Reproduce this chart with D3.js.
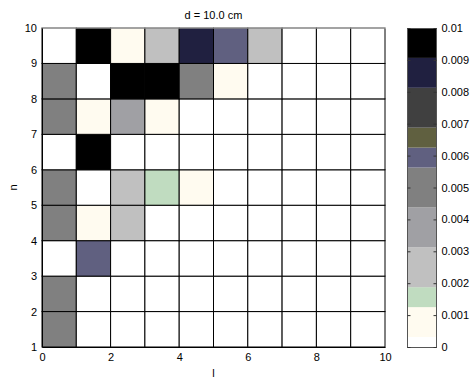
<!DOCTYPE html>
<html>
<head>
<meta charset="utf-8">
<script src="https://cdn.jsdelivr.net/npm/d3@7"></script>
<style>
  body { margin: 0; background: #fff; }
  text { font-family: "Liberation Sans", Arial, sans-serif; font-size: 11px; fill: #000; }
</style>
</head>
<body>
<div id="chart"></div>
<script>
// Axis ticks
const lTicks = [0, 2, 4, 6, 8, 10];
const nTicks = [1, 2, 3, 4, 5, 6, 7, 8, 9, 10];
const cbTicks = [0, 0.001, 0.002, 0.003, 0.004, 0.005, 0.006, 0.007, 0.008, 0.009, 0.01];

// Grid: cells for l = 0..9, rows listed from n = 1 (bottom) to n = 9 (top)
const lCells = [0, 1, 2, 3, 4, 5, 6, 7, 8, 9];
const nCells = [1, 2, 3, 4, 5, 6, 7, 8, 9];
const values = [
  [0.005, 0, 0, 0, 0, 0, 0, 0, 0, 0],
  [0.005, 0, 0, 0, 0, 0, 0, 0, 0, 0],
  [0, 0.006, 0, 0, 0, 0, 0, 0, 0, 0],
  [0.005, 0.0008, 0.0025, 0, 0, 0, 0, 0, 0, 0],
  [0.005, 0, 0.0025, 0.0016, 0.0008, 0, 0, 0, 0, 0],
  [0, 0.0098, 0, 0, 0, 0, 0, 0, 0, 0],
  [0.005, 0.0008, 0.0037, 0.0008, 0, 0, 0, 0, 0, 0],
  [0.005, 0, 0.0098, 0.0098, 0.005, 0.0008, 0, 0, 0, 0],
  [0, 0.0098, 0.0008, 0.0025, 0.0086, 0.006, 0.0025, 0, 0, 0]
];

// Discrete colormap (32-step map with merged bands)
const bandEdges = [0, 0.0003125, 0.00125, 0.001875, 0.003125, 0.004375, 0.005625, 0.00625, 0.006875, 0.008125, 0.0090625, 0.01];
const bandColors = ['#ffffff', '#fffbf0', '#c0dcc0', '#c0c0c0', '#a0a0a4', '#808080',
                    '#606080', '#606040', '#404040', '#202040', '#000000'];

const W = 470, H = 378;
const plot = { left: 42, right: 385, top: 28, bottom: 347 };
const cb = { left: 407, right: 436 };

const svg = d3.select('#chart').append('svg')
  .attr('width', W).attr('height', H);

svg.append('rect').attr('width', W).attr('height', H).attr('fill', '#fff');

const x = d3.scaleLinear().domain([0, 10]).range([plot.left, plot.right]);
const y = d3.scaleLinear().domain([1, 10]).range([plot.bottom, plot.top]);
const color = d3.scaleThreshold().domain(bandEdges.slice(1, -1)).range(bandColors);

const cells = [];
nCells.forEach((n, i) => lCells.forEach((l, j) => cells.push({ l, n, v: values[i][j] })));

svg.append('g').selectAll('rect')
  .data(cells)
  .join('rect')
  .attr('x', d => x(d.l))
  .attr('y', d => y(d.n + 1))
  .attr('width', d => x(d.l + 1) - x(d.l))
  .attr('height', d => y(d.n) - y(d.n + 1))
  .attr('fill', d => color(d.v))
  .attr('stroke', '#000')
  .attr('stroke-width', 1);

// Box: light top edge
svg.append('line')
  .attr('x1', plot.left).attr('x2', plot.right + 1)
  .attr('y1', plot.top).attr('y2', plot.top)
  .attr('stroke', '#c8c8c8');

// Axes labels
const xAxis = svg.append('g')
  .attr('transform', `translate(0,${plot.bottom})`)
  .call(d3.axisBottom(x).tickValues(lTicks).tickSize(0).tickPadding(6));
const yAxis = svg.append('g')
  .attr('transform', `translate(${plot.left},0)`)
  .call(d3.axisLeft(y).tickValues(nTicks).tickSize(0).tickPadding(5));
[xAxis, yAxis].forEach(a => {
  a.select('.domain').attr('stroke', '#000');
  a.selectAll('text').attr('font-family', null).attr('font-size', null).attr('fill', '#000');
});

svg.append('text')
  .attr('x', (plot.left + plot.right) / 2).attr('y', 19)
  .attr('text-anchor', 'middle')
  .text('d = 10.0 cm');

svg.append('text')
  .attr('x', (plot.left + plot.right) / 2).attr('y', 377)
  .attr('text-anchor', 'middle')
  .text('l');

svg.append('text')
  .attr('transform', `translate(17,${(plot.top + plot.bottom) / 2}) rotate(-90)`)
  .attr('text-anchor', 'middle')
  .text('n');

// Colorbar
const cy = d3.scaleLinear().domain([0, 0.01]).range([plot.bottom, plot.top]);
const bands = bandColors.map((c, i) => ({ lo: bandEdges[i], hi: bandEdges[i + 1], c }));

svg.append('g').selectAll('rect')
  .data(bands)
  .join('rect')
  .attr('x', cb.left)
  .attr('y', d => cy(d.hi))
  .attr('width', cb.right - cb.left)
  .attr('height', d => cy(d.lo) - cy(d.hi))
  .attr('fill', d => d.c);

svg.append('rect')
  .attr('x', cb.left + 0.5).attr('y', plot.top + 0.5)
  .attr('width', cb.right - cb.left).attr('height', plot.bottom - plot.top)
  .attr('fill', 'none').attr('stroke', '#555');

const cbRight = svg.append('g')
  .attr('transform', `translate(${cb.right + 0.5},0)`)
  .call(d3.axisRight(cy).tickValues(cbTicks).tickSize(-3).tickPadding(5).tickFormat(d3.format('')));
cbRight.select('.domain').remove();
cbRight.selectAll('line').attr('stroke', '#333');
cbRight.selectAll('text').attr('font-family', null).attr('font-size', null).attr('fill', '#000');

const cbLeft = svg.append('g')
  .attr('transform', `translate(${cb.left + 0.5},0)`)
  .call(d3.axisRight(cy).tickValues(cbTicks).tickSize(3).tickFormat(''));
cbLeft.select('.domain').remove();
cbLeft.selectAll('line').attr('stroke', '#333');
</script>
</body>
</html>
